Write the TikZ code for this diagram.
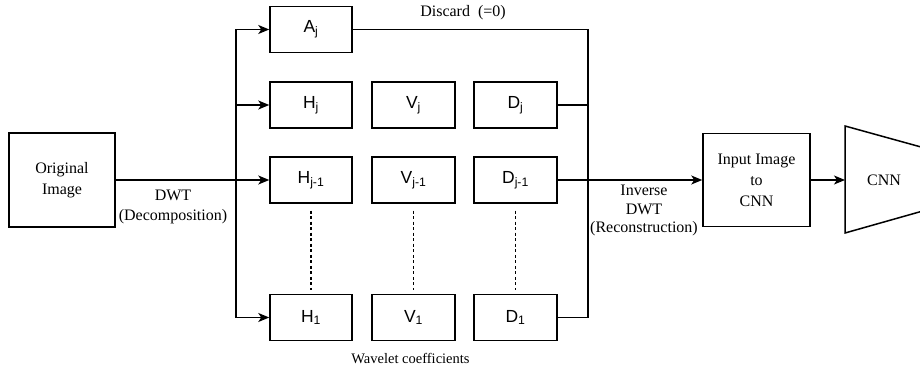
\documentclass[tikz,border=0pt]{standalone}
\usepackage{fontspec}
\setmainfont{Liberation Serif}
\newfontfamily\arialf{Liberation Sans}
\usetikzlibrary{arrows.meta,calc}
\begin{document}
\begin{tikzpicture}[x=1pt,y=-1pt,
  box/.style={draw, line width=1.5pt, inner sep=0pt, minimum width=82pt, minimum height=46pt,
    font=\arialf\fontsize{17.5}{20}\selectfont},
  bigbox/.style={draw, line width=1.5pt, inner sep=0pt, align=center,
    font=\fontsize{16}{21}\selectfont},
  conn/.style={line width=1.5pt},
  arr/.style={line width=1.5pt, -{Stealth[length=11pt,width=9pt,inset=3pt]}},
  dots/.style={line width=1.1pt, dash pattern=on 3pt off 2.5pt},
  lbl/.style={align=center, inner sep=0pt, font=\fontsize{16}{19}\selectfont}]
\useasboundingbox (0,0) rectangle (920,371);
% nodes
\node[bigbox, minimum width=106pt, minimum height=94pt] (orig) at (62,180) {Original\\Image};
\node[box] (Aj) at (311,29.5) {A\textsubscript{j}};
\node[box] (Hj) at (311,105) {H\textsubscript{j}};
\node[box] (Hjm) at (311,180) {H\textsubscript{j-1}};
\node[box] (H1) at (311,317.5) {H\textsubscript{1}};
\node[box, minimum width=83pt] (Vj) at (413.5,105) {V\textsubscript{j}};
\node[box, minimum width=83pt] (Vjm) at (413.5,180) {V\textsubscript{j-1}};
\node[box, minimum width=83pt] (V1) at (413.5,317.5) {V\textsubscript{1}};
\node[box, minimum width=83pt] (Dj) at (515.5,105) {D\textsubscript{j}};
\node[box, minimum width=83pt] (Djm) at (515.5,180) {D\textsubscript{j-1}};
\node[box, minimum width=83pt] (D1) at (515.5,317.5) {D\textsubscript{1}};
\node[bigbox, minimum width=107pt, minimum height=93pt] (inp) at (756.5,180) {Input Image\\to\\CNN};
% CNN trapezoid
\coordinate (tl) at (845,126);
\coordinate (bl) at (845,233);
\coordinate (tr) at (921,147);
\coordinate (br) at (921,211.5);
\draw[conn, line join=miter] (tr) -- (tl) -- (bl) -- (br);
\node[lbl] (cnn) at (884,180) {CNN};
% labels
\node[lbl] (discard) at (463,13) {Discard\ \ (=0)};
\node[lbl, font=\fontsize{16}{20}\selectfont] (dwt) at (173,207) {DWT\\(Decomposition)};
\node[lbl, font=\fontsize{16}{18.5}\selectfont] (idwt) at (644,210.5) {Inverse\\DWT\\(Reconstruction)};
\node[lbl, font=\fontsize{14.5}{17}\selectfont] (wc) at (410.5,359) {Wavelet coefficients};
% left bus
\coordinate (b1) at (236,29.5);
\coordinate (b2) at (236,317.5);
\draw[conn] (b1) -- (b2);
\draw[arr] (b1) -- (Aj.west);
\draw[arr] (b1 |- Hj.west) -- (Hj.west);
\draw[arr] (orig.east) -- (Hjm.west);
\draw[arr] (b2) -- (H1.west);
% right bus
\coordinate (r1) at (588,29.5);
\coordinate (r2) at (588,317.5);
\draw[conn, line join=miter] (Aj.east) -- (r1) -- (r2) -- (D1.east);
\draw[conn] (Dj.east) -- (r1 |- Dj.east);
\draw[arr] (Djm.east) -- (inp.west);
\draw[arr] (inp.east) -- (tl |- inp.east);
% dashed
\draw[dots] ($(Hjm.south)+(0,7)$) -- ($(H1.north)+(0,-4)$);
\draw[dots] ($(Vjm.south)+(0,7)$) -- ($(V1.north)+(0,-4)$);
\draw[dots] ($(Djm.south)+(0,7)$) -- ($(D1.north)+(0,-4)$);
\end{tikzpicture}
\end{document}
